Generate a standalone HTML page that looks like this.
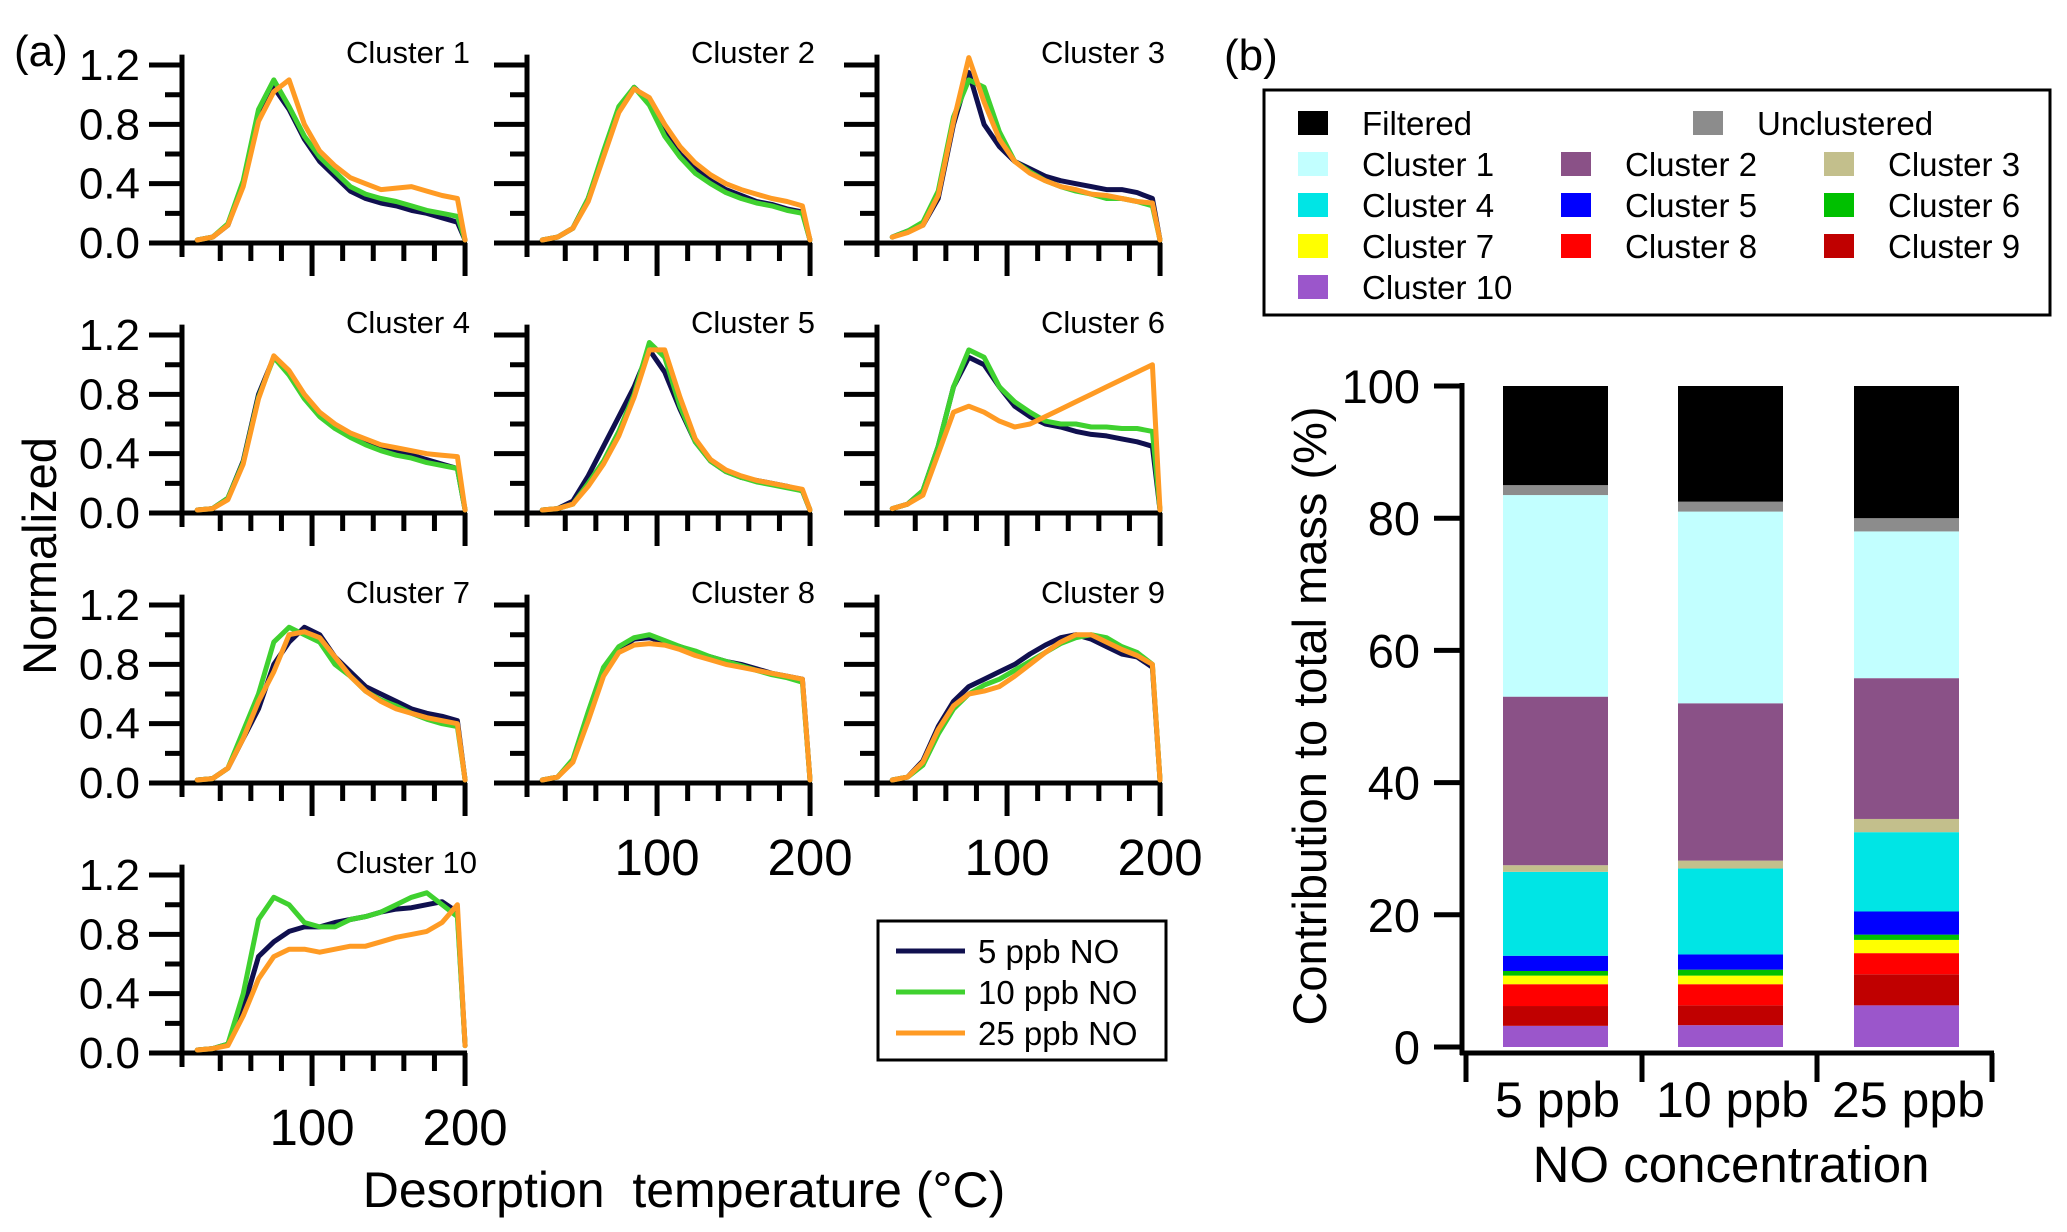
<!DOCTYPE html>
<html><head><meta charset="utf-8">
<style>
html,body{margin:0;padding:0;background:#fff;}
svg{display:block;font-family:"Liberation Sans",Arial,sans-serif;}
</style></head>
<body>
<svg id="fig" width="2067" height="1232" viewBox="0 0 2067 1232" xmlns="http://www.w3.org/2000/svg">
<text x="14" y="66" font-size="44">(a)</text>
<text x="1224" y="70" font-size="44">(b)</text>
<text transform="translate(56,556) rotate(-90)" text-anchor="middle" font-size="47">Normalized</text>
<text x="684" y="1207" text-anchor="middle" font-size="50" xml:space="preserve">Desorption  temperature (°C)</text>
<g id="panelA"></g>
<g id="legendA">
<rect x="878" y="921" width="288" height="139" fill="#fff" stroke="#000" stroke-width="3"/>
</g>
<g id="panelB"></g>
<g id="legendB">
<rect x="1264" y="90" width="786" height="225" fill="#fff" stroke="#000" stroke-width="3"/>
</g>
</svg>
<script>
const NS="http://www.w3.org/2000/svg";
// ---- Panel (a) data ----
const temps=[25,35,45,55,65,75,85,95,105,115,125,135,145,155,165,175,185,195,200];
const seriesNames=["5 ppb NO","10 ppb NO","25 ppb NO"];
const clusterNames=["Cluster 1","Cluster 2","Cluster 3","Cluster 4","Cluster 5","Cluster 6","Cluster 7","Cluster 8","Cluster 9","Cluster 10"];
const c1_5=[0.02,0.04,0.12,0.4,0.85,1.05,0.9,0.7,0.55,0.45,0.35,0.3,0.27,0.25,0.22,0.2,0.17,0.14,0.02];
const c1_10=[0.02,0.04,0.13,0.42,0.9,1.1,0.92,0.72,0.58,0.48,0.38,0.33,0.3,0.28,0.25,0.22,0.2,0.18,0.02];
const c1_25=[0.02,0.04,0.12,0.38,0.82,1.02,1.1,0.8,0.62,0.52,0.44,0.4,0.36,0.37,0.38,0.35,0.32,0.3,0.02];
const c2_5=[0.02,0.04,0.1,0.3,0.6,0.9,1.05,0.95,0.75,0.6,0.5,0.42,0.36,0.32,0.28,0.26,0.23,0.21,0.02];
const c2_10=[0.02,0.04,0.1,0.3,0.62,0.92,1.05,0.93,0.72,0.58,0.47,0.4,0.34,0.3,0.27,0.25,0.22,0.2,0.02];
const c2_25=[0.02,0.04,0.1,0.28,0.58,0.88,1.04,0.98,0.8,0.65,0.54,0.46,0.4,0.36,0.33,0.3,0.28,0.25,0.02];
const c3_5=[0.04,0.08,0.12,0.3,0.8,1.15,0.8,0.65,0.55,0.5,0.45,0.42,0.4,0.38,0.36,0.36,0.34,0.3,0.02];
const c3_10=[0.04,0.08,0.14,0.35,0.85,1.1,1.05,0.75,0.55,0.48,0.42,0.38,0.35,0.33,0.3,0.3,0.28,0.25,0.02];
const c3_25=[0.04,0.07,0.12,0.32,0.82,1.25,0.95,0.7,0.55,0.47,0.42,0.38,0.36,0.33,0.32,0.3,0.28,0.27,0.02];
const c4_5=[0.02,0.03,0.1,0.35,0.8,1.05,0.95,0.78,0.66,0.58,0.52,0.48,0.44,0.41,0.39,0.36,0.33,0.3,0.02];
const c4_10=[0.02,0.03,0.1,0.34,0.78,1.05,0.93,0.77,0.65,0.57,0.51,0.46,0.42,0.39,0.37,0.34,0.32,0.3,0.02];
const c4_25=[0.02,0.03,0.09,0.33,0.77,1.06,0.96,0.8,0.68,0.6,0.54,0.5,0.46,0.44,0.42,0.4,0.39,0.38,0.02];
const c5_5=[0.02,0.03,0.08,0.25,0.45,0.65,0.85,1.1,0.95,0.7,0.48,0.35,0.28,0.24,0.22,0.2,0.18,0.15,0.02];
const c5_10=[0.02,0.03,0.06,0.2,0.35,0.55,0.8,1.15,1.05,0.72,0.48,0.35,0.28,0.24,0.21,0.19,0.17,0.15,0.02];
const c5_25=[0.02,0.03,0.06,0.18,0.33,0.52,0.78,1.1,1.1,0.78,0.5,0.36,0.29,0.25,0.22,0.2,0.18,0.16,0.02];
const c6_5=[0.03,0.06,0.15,0.45,0.85,1.05,1.0,0.85,0.72,0.65,0.6,0.58,0.55,0.53,0.52,0.5,0.48,0.45,0.02];
const c6_10=[0.03,0.06,0.15,0.45,0.85,1.1,1.05,0.85,0.75,0.68,0.62,0.6,0.6,0.58,0.58,0.57,0.57,0.55,0.02];
const c6_25=[0.03,0.06,0.12,0.4,0.68,0.72,0.68,0.62,0.58,0.6,0.65,0.7,0.75,0.8,0.85,0.9,0.95,1.0,0.02];
const c7_5=[0.02,0.03,0.1,0.3,0.5,0.8,0.95,1.05,1.0,0.85,0.75,0.65,0.6,0.55,0.5,0.47,0.45,0.42,0.02];
const c7_10=[0.02,0.03,0.1,0.35,0.6,0.95,1.05,1.0,0.95,0.8,0.72,0.62,0.56,0.52,0.47,0.43,0.4,0.38,0.02];
const c7_25=[0.02,0.03,0.1,0.3,0.55,0.75,1.0,1.02,0.98,0.85,0.72,0.62,0.55,0.5,0.47,0.44,0.42,0.4,0.02];
const c8_5=[0.02,0.04,0.15,0.45,0.75,0.9,0.97,0.98,0.95,0.92,0.88,0.85,0.82,0.8,0.77,0.74,0.72,0.7,0.02];
const c8_10=[0.02,0.04,0.16,0.48,0.78,0.92,0.98,1.0,0.96,0.92,0.89,0.85,0.82,0.79,0.76,0.73,0.71,0.68,0.02];
const c8_25=[0.02,0.04,0.14,0.42,0.72,0.88,0.93,0.94,0.93,0.9,0.86,0.83,0.8,0.78,0.76,0.74,0.72,0.7,0.02];
const c9_5=[0.02,0.04,0.15,0.38,0.55,0.65,0.7,0.75,0.8,0.87,0.93,0.98,1.0,0.97,0.92,0.87,0.85,0.78,0.02];
const c9_10=[0.02,0.04,0.12,0.33,0.5,0.6,0.66,0.7,0.76,0.82,0.88,0.94,0.98,1.0,0.98,0.92,0.88,0.8,0.02];
const c9_25=[0.02,0.04,0.14,0.36,0.52,0.6,0.62,0.65,0.72,0.8,0.88,0.95,1.0,1.0,0.95,0.9,0.86,0.8,0.02];
const c10_5=[0.02,0.03,0.06,0.3,0.65,0.75,0.82,0.85,0.85,0.88,0.9,0.92,0.95,0.97,0.98,1.0,1.02,0.95,0.05];
const c10_10=[0.02,0.03,0.06,0.4,0.9,1.05,1.0,0.88,0.85,0.85,0.9,0.92,0.95,1.0,1.05,1.08,1.0,0.92,0.05];
const c10_25=[0.02,0.03,0.05,0.25,0.5,0.65,0.7,0.7,0.68,0.7,0.72,0.72,0.75,0.78,0.8,0.82,0.88,1.0,0.05];
const yTickLabels=["0.0","0.4","0.8","1.2"];
const xTickLabels=["100","200"];

// ---- Panel (b) data ----
const barCategories=["5 ppb","10 ppb","25 ppb"];
const componentNames=["Cluster 10","Cluster 9","Cluster 8","Cluster 7","Cluster 6","Cluster 5","Cluster 4","Cluster 3","Cluster 2","Cluster 1","Unclustered","Filtered"];
const share5=[3.2,3.0,3.3,1.3,0.7,2.3,12.7,1.0,25.5,30.5,1.5,15.0];
const share10=[3.3,3.0,3.2,1.3,0.9,2.3,13.0,1.2,23.8,29.0,1.5,17.5];
const share25=[6.3,4.7,3.2,2.0,0.8,3.5,12.0,2.0,21.3,22.2,2.0,20.0];
const barYTicks=["0","20","40","60","80","100"];

const lineColors=["#10104f","#3fd12f","#ff9b24"];
const compColors=["#9b56cb","#c00000","#ff0000","#ffff00","#00c000","#0000ff","#00e5e5","#c3bf8c","#8a5187","#c2ffff","#8c8c8c","#000000"];

function el(tag,attrs,parent){const e=document.createElementNS(NS,tag);for(const k in attrs)e.setAttribute(k,attrs[k]);parent.appendChild(e);return e;}

const clusterData=[[c1_5,c1_10,c1_25],[c2_5,c2_10,c2_25],[c3_5,c3_10,c3_25],[c4_5,c4_10,c4_25],[c5_5,c5_10,c5_25],[c6_5,c6_10,c6_25],[c7_5,c7_10,c7_25],[c8_5,c8_10,c8_25],[c9_5,c9_10,c9_25],[c10_5,c10_10,c10_25]];
const pA=document.getElementById('panelA');
const colX=[182,527,877], rowY=[243,513,783,1053];
const pxPerDeg=1.53, pxPerUnit=148.3, tMin=15;
clusterData.forEach((sets,i)=>{
  const col=i%3,row=Math.floor(i/3);
  const ox=colX[col], oy=rowY[row];
  const xs=t=>ox+(t-tMin)*pxPerDeg;
  const ys=v=>oy-v*pxPerUnit;
  const g=el('g',{},pA);
  
  
  const ya=el('line',{x1:ox,y1:ys(1.27),x2:ox,y2:oy+14,stroke:'#000','stroke-width':5},g);
  
  
  for(let k=0;k<=6;k++){
    const v=k*0.2, major=k%2===0;
    el('line',{x1:ox-(major?33:17),y1:ys(v),x2:ox,y2:ys(v),stroke:'#000','stroke-width':5},g);
    if(major && col===0){
      const t=el('text',{x:ox-42,y:ys(v)+15,'text-anchor':'end','font-size':44},g);
      t.textContent=yTickLabels[k/2];
      
      
    }
  }
  const xa=el('line',{x1:ox,y1:oy,x2:xs(200)+2,y2:oy,stroke:'#000','stroke-width':5},g);
  
  
  for(let t=40;t<=200;t+=20){
    const major=(t%100===0);
    el('line',{x1:xs(t),y1:oy,x2:xs(t),y2:oy+(major?33:18),stroke:'#000','stroke-width':5},g);
  }
  const bottom=(col===0&&row===3)||(col>0&&row===2);
  if(bottom){
    [100,200].forEach((t,j)=>{
      const tx=el('text',{x:xs(t),y:oy+92,'text-anchor':'middle','font-size':51},g);
      tx.textContent=xTickLabels[j];
      
      
    });
  }
  const lab=el('text',{x:ox+(i===9?295:288),y:oy-180,'text-anchor':'end','font-size':31},g);
  lab.textContent=clusterNames[i];
  
  
  sets.forEach((arr,s)=>{
    const d=arr.map((v,k)=>(k?'L':'M')+xs(temps[k]).toFixed(1)+','+ys(v).toFixed(1)).join(' ');
    const p=el('path',{d:d,fill:'none',stroke:lineColors[s],'stroke-width':5,'stroke-linejoin':'round','stroke-linecap':'round'},g);
    
    
  });
});
const lA=document.getElementById('legendA');
seriesNames.forEach((n,s)=>{
  const y=951+s*41;
  const ln=el('line',{x1:896,y1:y,x2:965,y2:y,stroke:lineColors[s],'stroke-width':5},lA);
  
  
  const t=el('text',{x:978,y:y+12,'font-size':33},lA);
  t.textContent=n;
  
  
});

// ---- panel b ----
const pB=document.getElementById('panelB');
const bx0=1462, by0=1047, pxPct=6.61;
const ysB=v=>by0-v*pxPct;
const barLeft=[1503,1678,1854], barW=105;
const shares=[share5,share10,share25];
const yax=el('line',{x1:bx0,y1:ysB(100)-3,x2:bx0,y2:1055,stroke:'#000','stroke-width':5},pB);


barYTicks.forEach((lbl,k)=>{
  const v=k*20;
  el('line',{x1:bx0-28,y1:ysB(v),x2:bx0,y2:ysB(v),stroke:'#000','stroke-width':5},pB);
  const t=el('text',{x:1420,y:ysB(v)+17,'text-anchor':'end','font-size':47},pB);
  t.textContent=lbl;
  
  
});
const xax=el('line',{x1:1460,y1:1053,x2:1994,y2:1053,stroke:'#000','stroke-width':5},pB);


[1466,1642,1817,1992].forEach(x=>el('line',{x1:x,y1:1053,x2:x,y2:1082,stroke:'#000','stroke-width':5},pB));
shares.forEach((arr,b)=>{
  let cum=0;
  arr.forEach((v,k)=>{
    const y1=ysB(cum+v), y0=ysB(cum);
    const r=el('rect',{x:barLeft[b],y:y1,width:barW,height:Math.max(0,y0-y1),fill:compColors[k]},pB);
    
    
    cum+=v;
  });
  const t=el('text',{x:barLeft[b]+barW/2+2,y:1117,'text-anchor':'middle','font-size':50},pB);
  t.textContent=barCategories[b];
  
  
});
const xt=el('text',{x:1731,y:1182,'text-anchor':'middle','font-size':51},pB);
xt.textContent='NO concentration';


const yt=el('text',{transform:'translate(1326,716) rotate(-90)','text-anchor':'middle','font-size':47},pB);
yt.textContent='Contribution to total mass (%)';



const lB=document.getElementById('legendB');
const legItems=[["Filtered",11,1298,123],["Unclustered",10,1693,123],
 ["Cluster 1",9,1298,164],["Cluster 2",8,1561,164],["Cluster 3",7,1824,164],
 ["Cluster 4",6,1298,205],["Cluster 5",5,1561,205],["Cluster 6",4,1824,205],
 ["Cluster 7",3,1298,246],["Cluster 8",2,1561,246],["Cluster 9",1,1824,246],
 ["Cluster 10",0,1298,287]];
legItems.forEach(([n,ci,x,y])=>{
  const r=el('rect',{x:x,y:y-12,width:30,height:24,fill:compColors[ci]},lB);
  
  
  const t=el('text',{x:x+64,y:y+12,'font-size':33},lB);
  t.textContent=n;
  
  
});
</script>
</body></html>
